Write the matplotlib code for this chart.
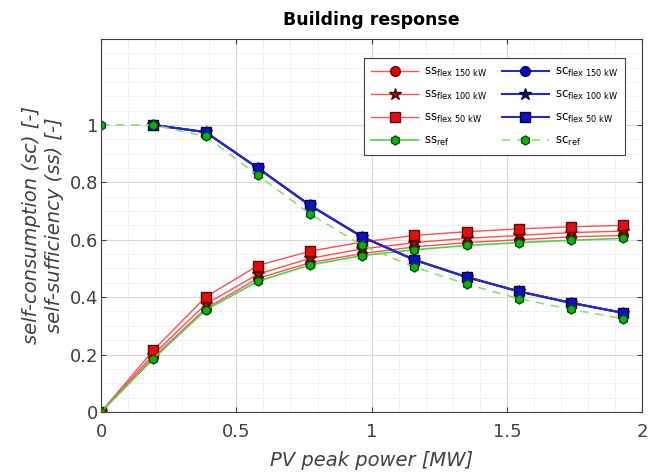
import numpy as np
import matplotlib
matplotlib.use('Agg')
import matplotlib.pyplot as plt
from matplotlib.ticker import MultipleLocator

# PV peak power [MW]
pv_power = [0, 0.193, 0.386, 0.579, 0.772, 0.965, 1.158, 1.351, 1.544, 1.737, 1.93]

# self-sufficiency
ss_flex150 = [0, 0.19, 0.36, 0.465, 0.52, 0.552, 0.575, 0.59, 0.60, 0.61, 0.615]
ss_flex100 = [0, 0.20, 0.375, 0.48, 0.535, 0.568, 0.59, 0.605, 0.615, 0.625, 0.63]
ss_flex50 = [0, 0.215, 0.40, 0.51, 0.56, 0.592, 0.615, 0.628, 0.638, 0.645, 0.65]
ss_ref = [0, 0.185, 0.355, 0.455, 0.512, 0.545, 0.565, 0.58, 0.59, 0.598, 0.605]

# self-consumption
sc_flex150 = [np.nan, 1.0, 0.975, 0.85, 0.72, 0.61, 0.53, 0.47, 0.42, 0.38, 0.345]
sc_flex100 = [np.nan, 1.0, 0.975, 0.85, 0.72, 0.61, 0.53, 0.47, 0.42, 0.38, 0.345]
sc_flex50 = [np.nan, 1.0, 0.975, 0.85, 0.72, 0.61, 0.53, 0.47, 0.42, 0.38, 0.345]
sc_ref = [1.0, 1.0, 0.96, 0.825, 0.69, 0.58, 0.505, 0.445, 0.395, 0.357, 0.325]

plt.rcParams['font.family'] = ['DejaVu Sans']
plt.rcParams['mathtext.fontset'] = 'dejavusans'

fig = plt.figure(figsize=(6.48, 4.74), dpi=100)
ax = fig.add_axes([0.156, 0.131, 0.835, 0.787])

red_line = '#ff5050'
blue_line = '#2828c8'
green_line = '#50d050'

h = {}
h['ss150'], = ax.plot(pv_power, ss_flex150, color=red_line, lw=1, marker='o', ms=7,
                      mfc='#e00000', mec='#700000', label=r'ss$_{\mathrm{flex\ 150\ kW}}$')
h['ss100'], = ax.plot(pv_power, ss_flex100, color=red_line, lw=1, marker='*', ms=9,
                      mfc='#901818', mec='#500000', label=r'ss$_{\mathrm{flex\ 100\ kW}}$')
h['ss50'], = ax.plot(pv_power, ss_flex50, color=red_line, lw=1, marker='s', ms=6.5,
                     mfc='#e01010', mec='#700000', label=r'ss$_{\mathrm{flex\ 50\ kW}}$')
h['ssref'], = ax.plot(pv_power, ss_ref, color=green_line, lw=1.2, marker='h', ms=6.5,
                      mfc='#10b010', mec='#005000', label=r'ss$_{\mathrm{ref}}$')

h['sc150'], = ax.plot(pv_power, sc_flex150, color=blue_line, lw=1.5, marker='o', ms=7,
                      mfc='#0000c0', mec='#000050', label=r'sc$_{\mathrm{flex\ 150\ kW}}$')
h['sc100'], = ax.plot(pv_power, sc_flex100, color=blue_line, lw=1.5, marker='*', ms=9,
                      mfc='#101060', mec='#000030', label=r'sc$_{\mathrm{flex\ 100\ kW}}$')
h['sc50'], = ax.plot(pv_power, sc_flex50, color=blue_line, lw=1.5, marker='s', ms=6.5,
                     mfc='#1010c0', mec='#000050', label=r'sc$_{\mathrm{flex\ 50\ kW}}$')
h['scref'], = ax.plot(pv_power, sc_ref, color='#90e070', lw=1.2, ls=(0, (5, 4)), marker='h', ms=6.5,
                      mfc='#10b010', mec='#005000', label=r'sc$_{\mathrm{ref}}$')

ax.set_xlim(0, 2)
ax.set_ylim(0, 1.3)
ax.set_xticks([0, 0.5, 1, 1.5, 2])
ax.set_xticklabels(['0', '0.5', '1', '1.5', '2'])
ax.set_yticks([0, 0.2, 0.4, 0.6, 0.8, 1])
ax.set_yticklabels(['0', '0.2', '0.4', '0.6', '0.8', '1'])
ax.xaxis.set_minor_locator(MultipleLocator(0.1))
ax.yaxis.set_minor_locator(MultipleLocator(0.05))
ax.grid(which='major', color='#d8d8d8', lw=0.8)
ax.grid(which='minor', color='#efefef', lw=0.6)
ax.set_axisbelow(True)
ax.tick_params(which='both', direction='in', top=True, right=True, labelsize=13,
               labelcolor='#404040', color='#404040')
ax.tick_params(axis='x', pad=8)
ax.tick_params(axis='y', pad=2)
ax.tick_params(which='minor', length=0)
for s in ax.spines.values():
    s.set_color('#404040')
    s.set_linewidth(0.8)

ax.set_title('Building response', fontsize=12.5, fontweight='bold', pad=10)
ax.set_xlabel('PV peak power [MW]', fontsize=14, style='italic', color='#404040', labelpad=7)
ax.set_ylabel('self-consumption (sc) [-]\nself-sufficiency (ss) [-]', fontsize=14,
              style='italic', color='#404040', linespacing=1.3, labelpad=4)

order = ['ss150', 'ss100', 'ss50', 'ssref', 'sc150', 'sc100', 'sc50', 'scref']
leg = ax.legend([h[k] for k in order], [h[k].get_label() for k in order], ncol=2,
                loc='upper right', bbox_to_anchor=(0.98, 0.965), fontsize=8.5,
                fancybox=False, edgecolor='#404040', framealpha=1,
                handlelength=4.0, handletextpad=0.5, columnspacing=1.2,
                labelspacing=0.75, borderpad=0.6)
leg.get_frame().set_linewidth(0.8)

fig.savefig('out.png', dpi=100)
